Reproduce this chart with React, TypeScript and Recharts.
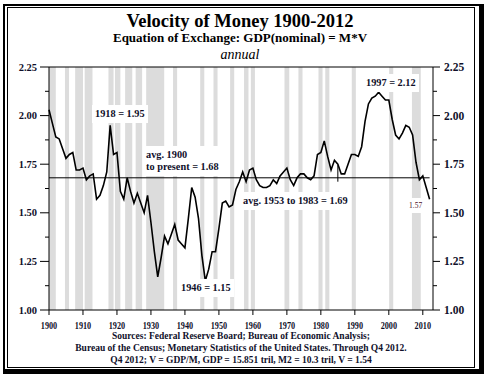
import {
  LineChart,
  Line,
  XAxis,
  YAxis,
  ReferenceArea,
  ReferenceLine,
} from "recharts";

const serif = '"Liberation Serif", "Times New Roman", serif';

const startYear = 1900;
const v1900s = [2.03, 1.96, 1.89, 1.88, 1.83, 1.78, 1.8, 1.81, 1.72, 1.72];
const v1910s = [1.73, 1.67, 1.69, 1.7, 1.57, 1.59, 1.64, 1.71, 1.95, 1.8];
const v1920s = [1.81, 1.61, 1.57, 1.68, 1.61, 1.55, 1.6, 1.55, 1.5, 1.59];
const v1930s = [1.45, 1.3, 1.17, 1.27, 1.38, 1.34, 1.39, 1.44, 1.36, 1.34];
const v1940s = [1.32, 1.47, 1.63, 1.58, 1.47, 1.28, 1.15, 1.21, 1.3, 1.3];
const v1950s = [1.42, 1.55, 1.56, 1.53, 1.54, 1.62, 1.66, 1.71, 1.66, 1.72];
const v1960s = [1.73, 1.67, 1.64, 1.63, 1.63, 1.64, 1.67, 1.65, 1.69, 1.71];
const v1970s = [1.73, 1.67, 1.64, 1.68, 1.7, 1.7, 1.68, 1.67, 1.69, 1.8];
const v1980s = [1.81, 1.87, 1.79, 1.72, 1.77, 1.75, 1.7, 1.7, 1.75, 1.8];
const v1990s = [1.8, 1.79, 1.84, 1.97, 2.06, 2.09, 2.1, 2.12, 2.1, 2.08];
const v2000s = [2.08, 1.98, 1.9, 1.88, 1.91, 1.95, 1.94, 1.9, 1.76, 1.67];
const v2010s = [1.69, 1.63, 1.57];

const velocity = [
  ...v1900s, ...v1910s, ...v1920s, ...v1930s, ...v1940s, ...v1950s,
  ...v1960s, ...v1970s, ...v1980s, ...v1990s, ...v2000s, ...v2010s,
];

// shaded recession periods (start, end)
const recessions: [number, number][] = [
  [1900, 1902], [1904.7, 1905.9], [1907.7, 1910], [1910.5, 1912.8],
  [1917.5, 1919], [1919.4, 1921], [1922.4, 1924.5], [1925.5, 1927.4],
  [1928.6, 1933.9], [1936.5, 1937.7], [1944.5, 1945.7], [1948.4, 1949.6],
  [1953.3, 1954.5], [1957.4, 1958.7], [1959.4, 1960.6], [1969.3, 1970.7],
  [1973.4, 1974.6], [1979.3, 1980.5], [1981.3, 1982.5], [1989.1, 1990.3],
  [2000.1, 2001.3], [2006.8, 2009.4],
];

const xTicks = [1900, 1910, 1920, 1930, 1940, 1950, 1960, 1970, 1980, 1990, 2000, 2010];
const yMajor = [1, 1.25, 1.5, 1.75, 2, 2.25];
const yTicks = [1, 1.125, 1.25, 1.375, 1.5, 1.625, 1.75, 1.875, 2, 2.125, 2.25];

const avgAll = 1.68;
const avgEnd = 1985;

const data = velocity.map((v, i) => ({ year: startYear + i, v }));

function LeftTick({ x, y, payload }: any) {
  const major = yMajor.includes(payload.value);
  const len = major ? 9 : 4;
  return (
    <g>
      <line x1={x - len} x2={x} y1={y} y2={y} stroke="#000" />
      {major && (
        <text x={x - len - 3} y={y} dy="0.35em" textAnchor="end" fontFamily={serif}
          fontWeight="bold" fontSize={10.5} fill="#10102a">
          {payload.value.toFixed(2)}
        </text>
      )}
    </g>
  );
}

function RightTick({ x, y, payload }: any) {
  const major = yMajor.includes(payload.value);
  const len = major ? 7 : 4;
  return (
    <g>
      <line x1={x} x2={x + len} y1={y} y2={y} stroke="#000" />
      {major && (
        <text x={x + 11} y={y} dy="0.35em" textAnchor="start" fontFamily={serif}
          fontWeight="bold" fontSize={11.5} fill="#10102a">
          {payload.value.toFixed(2)}
        </text>
      )}
    </g>
  );
}

function XTick({ x, y, payload }: any) {
  return (
    <g transform={`translate(${x},${y})`}>
      <text x={0} y={0} dy="0.71em" textAnchor="middle" transform="scale(0.78,1)"
        fontFamily={serif} fontWeight="bold" fontSize={10.5} fill="#10102a">
        {payload.value}
      </text>
    </g>
  );
}

const note = (
  left: number, top: number, text: React.ReactNode, extra: React.CSSProperties = {},
) => (
  <div style={{
    position: "absolute", left, top, background: "#fff", padding: "3px 3px",
    fontFamily: serif, fontWeight: "bold", fontSize: 10.3, lineHeight: "12px",
    color: "#10102a", whiteSpace: "nowrap", ...extra,
  }}>
    {text}
  </div>
);

export default function App() {
  return (
    <div style={{ position: "absolute", left: 0, top: 0, width: 488, height: 378, background: "#fff", fontFamily: serif }}>
      <div style={{ position: "absolute", left: 3, top: 4, width: 474, height: 363, border: "solid #000", borderWidth: "2px 5px 5px 2px" }} />
      <div style={{ position: "absolute", left: 7, top: 7, width: 466, height: 359, border: "1px solid #000" }} />

      <div style={{ position: "absolute", left: 0, width: 480, top: 12, textAlign: "center", fontSize: 18.5, lineHeight: "18.5px", fontWeight: "bold" }}>
        Velocity of Money 1900-2012
      </div>
      <div style={{ position: "absolute", left: 0, width: 480, top: 31, textAlign: "center", fontSize: 13, lineHeight: "13px", fontWeight: "bold" }}>
        Equation of Exchange: GDP(nominal) = M*V
      </div>
      <div style={{ position: "absolute", left: 0, width: 480, top: 48, textAlign: "center", fontSize: 14, lineHeight: "14px", fontStyle: "italic" }}>
        annual
      </div>

      <div style={{ position: "absolute", left: 0, top: 0 }}>
        <LineChart width={488} height={378} data={data} margin={{ top: 67, right: 10, bottom: 43, left: 9 }}>
          {recessions.map(([a, b]) => (
            <ReferenceArea key={a} yAxisId="left" x1={a} x2={b} y1={1} y2={2.25}
              fill="#dcdcdc" fillOpacity={1} stroke="none" ifOverflow="hidden" />
          ))}
          <XAxis dataKey="year" type="number" domain={[1900, 2013]} ticks={xTicks}
            height={25} tickSize={5} tickMargin={7} interval={0}
            axisLine={{ stroke: "#000" }} tickLine={{ stroke: "#000" }} tick={<XTick />} />
          <YAxis yAxisId="left" orientation="left" type="number" domain={[1, 2.25]}
            ticks={yTicks} interval={0} width={40} tickSize={0} tickMargin={0}
            allowDataOverflow axisLine={{ stroke: "#000" }} tickLine={false} tick={<LeftTick />} />
          <YAxis yAxisId="right" orientation="right" type="number" domain={[1, 2.25]}
            ticks={yTicks} interval={0} width={45} tickSize={0} tickMargin={0}
            allowDataOverflow axisLine={{ stroke: "#000" }} tickLine={false} tick={<RightTick />} />
          <ReferenceLine yAxisId="left" y={2.25} stroke="#000" />
          <ReferenceLine yAxisId="left" stroke="#000"
            segment={[{ x: 1900, y: avgAll }, { x: 2012, y: avgAll }]} />
          <ReferenceLine yAxisId="left" stroke="#000"
            segment={[{ x: avgEnd, y: 1.66 }, { x: avgEnd, y: 1.745 }]} />
          {/* same series bound to the right axis so its scale gets ticks */}
          <Line yAxisId="right" dataKey="v" type="linear" stroke="none"
            dot={false} activeDot={false} isAnimationActive={false} legendType="none" />
          <Line yAxisId="left" dataKey="v" type="linear" stroke="#000" strokeWidth={1.6}
            dot={false} isAnimationActive={false} />
        </LineChart>
      </div>

      {note(92, 105, "1918 = 1.95")}
      {note(143, 146, <>avg. 1900<br />to present = 1.68</>)}
      {note(363, 74, "1997 = 2.12")}
      {note(240, 192, "avg. 1953 to 1983 = 1.69")}
      {note(178, 279, "1946 = 1.15")}
      {note(406, 198, "1.57", { fontWeight: "normal", fontSize: 7.5, lineHeight: "9px", color: "#4b0d1f" })}

      <div style={{ position: "absolute", left: 0, width: 482, top: 329.5, textAlign: "center", fontSize: 9.5, lineHeight: "12px", fontWeight: "bold", color: "#10102a" }}>
        Sources: Federal Reserve Board; Bureau of Economic Analysis;<br />
        Bureau of the Census; Monetary Statistics of the United States. Through Q4 2012.<br />
        Q4 2012; V = GDP/M, GDP = 15.851 tril, M2 = 10.3 tril, V = 1.54
      </div>
    </div>
  );
}
